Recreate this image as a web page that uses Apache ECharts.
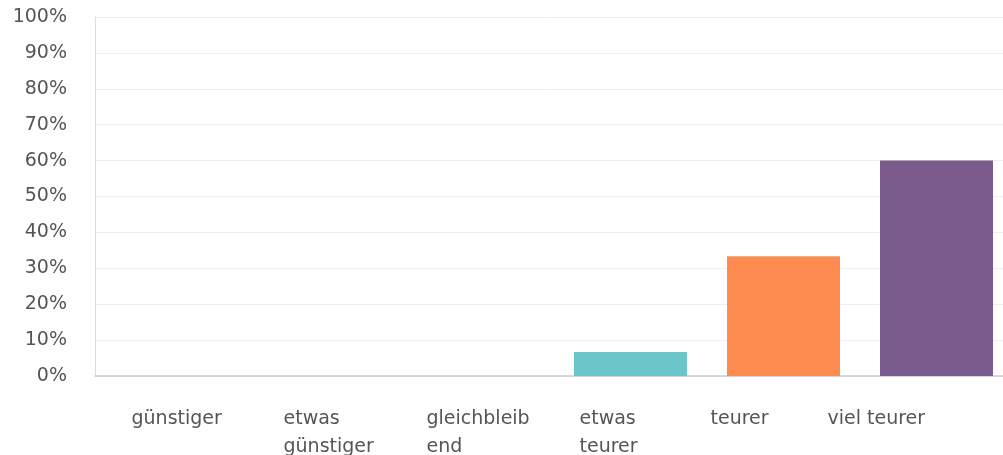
<!DOCTYPE html>
<html>
<head>
<meta charset="utf-8">
<script src="https://cdn.jsdelivr.net/npm/echarts@6/dist/echarts.min.js"></script>
<style>
  html, body { margin: 0; padding: 0; background: #fff; }
  #chart { width: 1003px; height: 455px; }
</style>
</head>
<body>
<div id="chart"></div>
<script>
// Erwartete Preisentwicklung – Anteil der Antworten
const categories = ['günstiger', 'etwas günstiger', 'gleichbleibend', 'etwas teurer', 'teurer', 'viel teurer'];
const tickLabels = ['günstiger', 'etwas\ngünstiger', 'gleichbleib\nend', 'etwas\nteurer', 'teurer', 'viel teurer'];
const shares = [0, 0, 0, 6.67, 33.33, 60];
const barColors = ['#6cc5c9', '#6cc5c9', '#6cc5c9', '#6cc5c9', '#fd8a4e', '#7b5b8e'];

// left indent of each category caption inside its label slot
const labelIndent = [59, 66, 64, 72, 58, 30];

const font = 'DejaVu Sans';
const labelText = { color: '#555555', fontFamily: font, fontSize: 19, lineHeight: 28 };

const rich = {};
labelIndent.forEach((p, i) => {
  rich['i' + i] = Object.assign({ padding: [0, 0, 0, p], align: 'left' }, labelText);
});

const chart = echarts.init(document.getElementById('chart'), null, { renderer: 'canvas' });

chart.setOption({
  animation: false,
  grid: [
    { left: 95, top: 17, right: -10, bottom: 79, outerBoundsMode: 'none', containLabel: false },
    { left: 0, top: 17, width: 870, bottom: 79, outerBoundsMode: 'none', containLabel: false }
  ],
  xAxis: [
    {
      type: 'category',
      gridIndex: 0,
      data: categories,
      axisLine: { show: true, lineStyle: { color: '#cccccc', width: 1.5 } },
      axisTick: { show: false },
      axisLabel: { show: false }
    },
    {
      type: 'category',
      gridIndex: 1,
      data: categories,
      axisLine: { show: false },
      axisTick: { show: false },
      axisLabel: Object.assign({
        interval: 0,
        hideOverlap: false,
        margin: 29,
        align: 'left',
        verticalAlign: 'top',
        rich: rich,
        formatter: (v, i) => tickLabels[i].split('\n').map(l => '{i' + i + '|' + l + '}').join('\n')
      }, labelText)
    }
  ],
  yAxis: [
    {
      type: 'value',
      gridIndex: 0,
      min: 0,
      max: 100,
      interval: 10,
      axisLine: { show: true, lineStyle: { color: '#dddddd' } },
      axisTick: { show: false },
      splitLine: { lineStyle: { color: '#eeeeee', width: 1 } },
      axisLabel: {
        margin: 28,
        color: '#555555',
        fontFamily: font,
        fontSize: 19,
        padding: [4, 0, 0, 0],
        formatter: '{value}%'
      }
    },
    { type: 'value', gridIndex: 1, min: 0, max: 100, show: false }
  ],
  series: [
    {
      type: 'bar',
      xAxisIndex: 0,
      yAxisIndex: 0,
      barWidth: 113,
      data: shares.map((v, i) => ({ value: v, itemStyle: { color: barColors[i] } }))
    }
  ]
});
</script>
</body>
</html>
